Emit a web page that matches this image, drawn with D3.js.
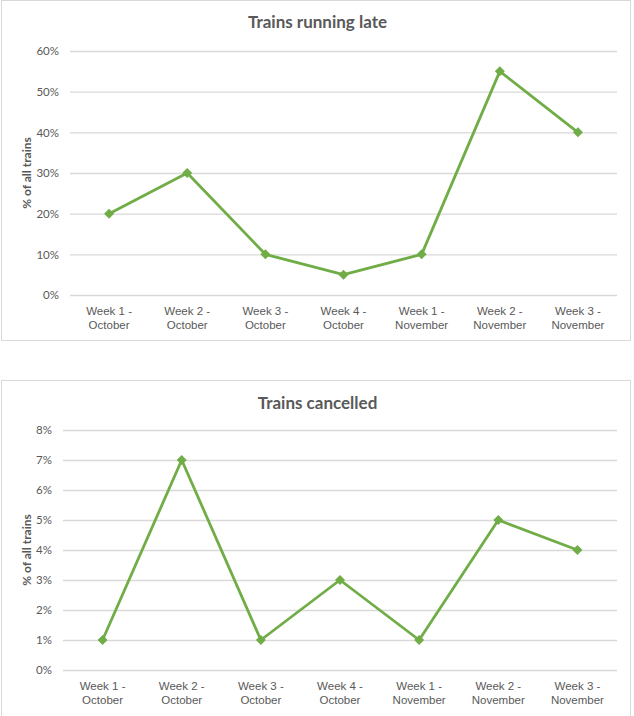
<!DOCTYPE html>
<html>
<head>
<meta charset="utf-8">
<script src="https://cdn.jsdelivr.net/npm/d3@7"></script>
<style>
  body { margin: 0; background: #fff; }
  svg { display: block; font-family: Lato, "Open Sans", sans-serif; }
</style>
</head>
<body>
<div id="chart"></div>
<script>
// categories (two lines each, as in the picture)
var weeks = [
  ["Week 1 -", "October"],
  ["Week 2 -", "October"],
  ["Week 3 -", "October"],
  ["Week 4 -", "October"],
  ["Week 1 -", "November"],
  ["Week 2 -", "November"],
  ["Week 3 -", "November"]
];
var lateValues = [20, 30, 10, 5, 10, 55, 40];
var cancelledValues = [1, 7, 1, 3, 1, 5, 4];
var lateTicks = [0, 10, 20, 30, 40, 50, 60];
var cancelledTicks = [0, 1, 2, 3, 4, 5, 6, 7, 8];

var green = "#70ad47", textCol = "#595959", gridCol = "#d9d9d9";

var svg = d3.select("#chart").append("svg")
    .attr("width", 634).attr("height", 716);

drawChart({
  title: "Trains running late", values: lateValues, ticks: lateTicks,
  box: [1, 0, 629, 340], plot: {left: 70, right: 617, top: 51, bottom: 295},
  titleY: 28
});
drawChart({
  title: "Trains cancelled", values: cancelledValues, ticks: cancelledTicks,
  box: [1, 380, 629, 345], plot: {left: 63, right: 617, top: 430, bottom: 670},
  titleY: 409
});

function drawChart(c) {
  var g = svg.append("g");
  var p = c.plot;

  g.append("rect")
    .attr("x", c.box[0] + 0.5).attr("y", c.box[1] + 0.5)
    .attr("width", c.box[2]).attr("height", c.box[3])
    .attr("fill", "#fff").attr("stroke", gridCol);

  g.append("text")
    .attr("x", (c.box[0] + c.box[0] + c.box[2]) / 2 + 2).attr("y", c.titleY)
    .attr("text-anchor", "middle")
    .attr("fill", textCol).attr("font-size", "17px").attr("font-weight", "bold")
    .text(c.title);

  var x = d3.scaleBand().domain(d3.range(weeks.length)).range([p.left, p.right]);
  var y = d3.scaleLinear().domain([0, d3.max(c.ticks)]).range([p.bottom, p.top]);

  // gridlines + y labels
  var yAxis = g.append("g")
    .attr("transform", "translate(" + p.left + ",0)")
    .call(d3.axisLeft(y).tickValues(c.ticks).tickSize(-(p.right - p.left))
      .tickPadding(11).tickFormat(function(d) { return d + "%"; }));
  yAxis.select(".domain").remove();
  yAxis.selectAll("line").attr("stroke", gridCol).attr("stroke-width", 1.3);
  yAxis.selectAll("text").attr("fill", textCol).attr("font-size", "11.5px")
    .attr("font-family", "Lato, 'Open Sans', sans-serif");

  g.append("text")
    .attr("transform", "translate(31," + (p.top + p.bottom) / 2 + ") rotate(-90)")
    .attr("text-anchor", "middle")
    .attr("fill", textCol).attr("font-size", "12px").attr("font-weight", "bold")
    .text("% of all trains");

  // x labels
  var xAxis = g.append("g")
    .attr("transform", "translate(0," + p.bottom + ")")
    .call(d3.axisBottom(x).tickSize(0).tickFormat(""));
  xAxis.select(".domain").remove();
  xAxis.selectAll(".tick").append("text")
    .attr("fill", textCol).attr("font-size", "11.5px")
    .attr("text-anchor", "middle")
    .selectAll("tspan")
    .data(function(i) { return weeks[i]; })
    .enter().append("tspan")
    .attr("x", 0)
    .attr("y", function(d, k) { return 19.5 + k * 14.5; })
    .text(function(d) { return d; });

  var cx = function(d, i) { return x(i) + x.bandwidth() / 2; };

  g.append("path")
    .datum(c.values)
    .attr("fill", "none").attr("stroke", green).attr("stroke-width", 2.8)
    .attr("stroke-linejoin", "round")
    .attr("d", d3.line().x(cx).y(function(d) { return y(d); }));

  g.selectAll(".marker")
    .data(c.values).enter().append("path")
    .attr("class", "marker")
    .attr("d", d3.symbol(d3.symbolSquare, 50))
    .attr("fill", green)
    .attr("transform", function(d, i) {
      return "translate(" + cx(d, i) + "," + y(d) + ") rotate(45)";
    });
}
</script>
</body>
</html>
